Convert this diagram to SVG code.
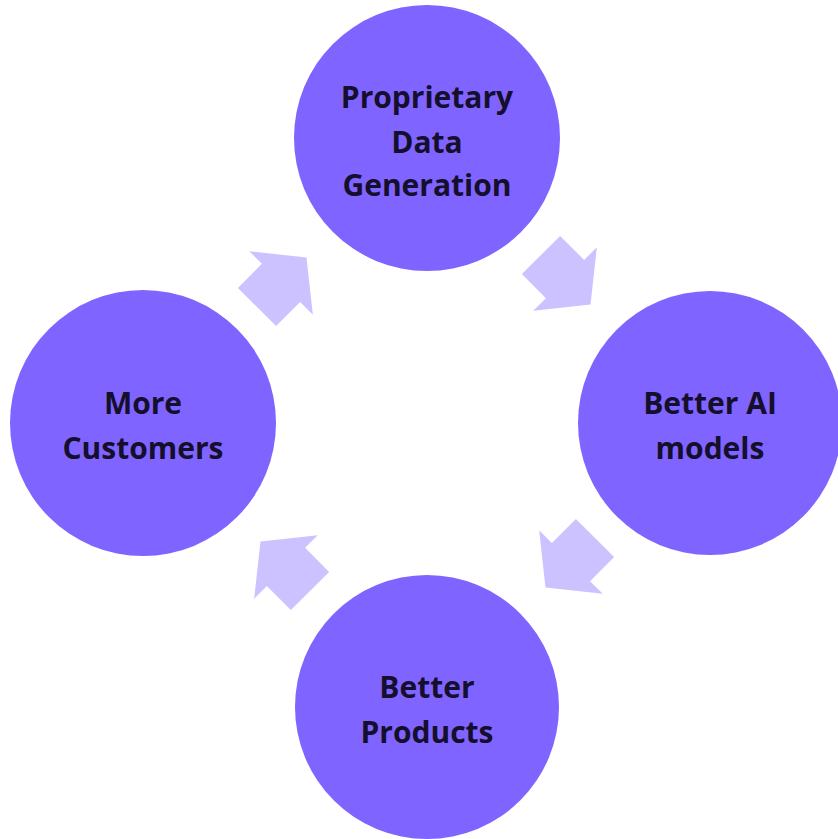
<svg xmlns="http://www.w3.org/2000/svg" width="838" height="839" viewBox="0 0 838 839">
<style>
.node circle{fill:#8064FF}
.node text{font-family:"Open Sans","Noto Sans","Liberation Sans",sans-serif;font-weight:bold;font-size:30px;fill:#150F2E;text-anchor:middle}
.arrow{fill:#CCC2FF}
</style>
<defs>
<path id="arr" d="M0,-27 L34,-27 L34,-45 L70,0 L34,45 L34,27 L0,27 Z"/>
</defs>
<rect width="838" height="839" fill="#FFFFFF"/>
<g id="connectors">
<use href="#arr" class="arrow" transform="translate(541,255) rotate(45)"/>
<use href="#arr" class="arrow" transform="translate(595,538) rotate(135)"/>
<use href="#arr" class="arrow" transform="translate(310,591) rotate(-135)"/>
<use href="#arr" class="arrow" transform="translate(257,307) rotate(-45)"/>
</g>
<g id="node-data" class="node">
<circle cx="427" cy="138" r="133"/>
<text x="427" y="108">Proprietary</text>
<text x="427" y="153">Data</text>
<text x="427" y="196">Generation</text>
</g>
<g id="node-ai" class="node">
<circle cx="710" cy="423" r="132"/>
<text x="710" y="414">Better AI</text>
<text x="710" y="459">models</text>
</g>
<g id="node-products" class="node">
<circle cx="427" cy="707" r="132"/>
<text x="427" y="698">Better</text>
<text x="427" y="743">Products</text>
</g>
<g id="node-customers" class="node">
<circle cx="143" cy="423" r="133"/>
<text x="143" y="414">More</text>
<text x="143" y="459">Customers</text>
</g>
</svg>
